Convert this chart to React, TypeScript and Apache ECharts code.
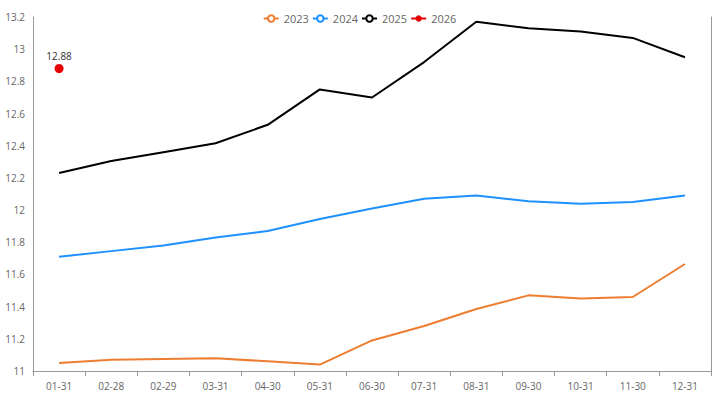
import React, { useEffect, useRef } from "react";
import * as echarts from "echarts";

const categories = ["01-31", "02-28", "02-29", "03-31", "04-30", "05-31", "06-30", "07-31", "08-31", "09-30", "10-31", "11-30", "12-31"];
const s2023 = [11.05, 11.07, 11.075, 11.08, 11.06, 11.04, 11.19, 11.28, 11.385, 11.47, 11.45, 11.46, 11.665];
const s2024 = [11.71, 11.745, 11.78, 11.83, 11.87, 11.945, 12.01, 12.07, 12.09, 12.055, 12.04, 12.05, 12.09];
const s2025 = [12.23, 12.305, 12.36, 12.415, 12.53, 12.75, 12.7, 12.92, 13.17, 13.13, 13.11, 13.07, 12.95];
const s2026 = [12.88];

const FONT = "'Open Sans', sans-serif";

export default function App() {
  const ref = useRef<HTMLDivElement>(null);
  useEffect(() => {
    if (!ref.current) return;
    const chart = echarts.init(ref.current, undefined, { renderer: "svg" });
    const lineSeries = (name: string, data: number[], color: string) => ({
      name,
      type: "line",
      data,
      showSymbol: false,
      symbol: "emptyCircle",
      symbolSize: 6,
      lineStyle: { color, width: 2 },
      itemStyle: { color },
    });
    chart.setOption({
      animation: false,
      textStyle: { fontFamily: FONT },
      legend: {
        top: 8,
        left: "center",
        itemWidth: 15,
        itemHeight: 8,
        itemGap: 3,
        textStyle: { color: "#666", fontSize: 11, fontFamily: FONT },
        data: ["2023", "2024", "2025", "2026"],
      },
      grid: { left: 33, right: 8, top: 17, bottom: 26, containLabel: false },
      xAxis: {
        type: "category",
        data: categories,
        boundaryGap: true,
        axisLine: { lineStyle: { color: "#999" } },
        axisTick: { show: true, lineStyle: { color: "#999" } },
        axisLabel: { color: "#666", fontSize: 10, fontFamily: FONT, margin: 10 },
      },
      yAxis: [
        {
          type: "value",
          min: 11,
          max: 13.2,
          interval: 0.2,
          axisLine: { show: true, lineStyle: { color: "#999" } },
          axisTick: { show: false },
          splitLine: { show: false },
          axisLabel: { color: "#666", fontSize: 10, fontFamily: FONT, margin: 8 },
        },
        {
          type: "value",
          position: "right",
          min: 11,
          max: 13.2,
          interval: 0.2,
          axisLine: { show: true, lineStyle: { color: "#999" } },
          axisTick: { show: false },
          splitLine: { show: false },
          axisLabel: { show: false },
        },
      ],
      series: [
        lineSeries("2023", s2023, "#ed7d31"),
        lineSeries("2024", s2024, "#1e90ff"),
        lineSeries("2025", s2025, "#000000"),
        {
          name: "2026",
          type: "line",
          data: s2026,
          showSymbol: true,
          symbol: "circle",
          symbolSize: 9,
          itemStyle: { color: "#e60000" },
          lineStyle: { color: "#e60000", width: 2 },
          label: { show: true, position: "top", color: "#333", fontSize: 10, fontFamily: FONT, distance: 3 },
        },
      ],
    });
    return () => chart.dispose();
  }, []);
  return <div ref={ref} style={{ width: 719, height: 397, position: "absolute", left: 0, top: 0 }} />;
}
